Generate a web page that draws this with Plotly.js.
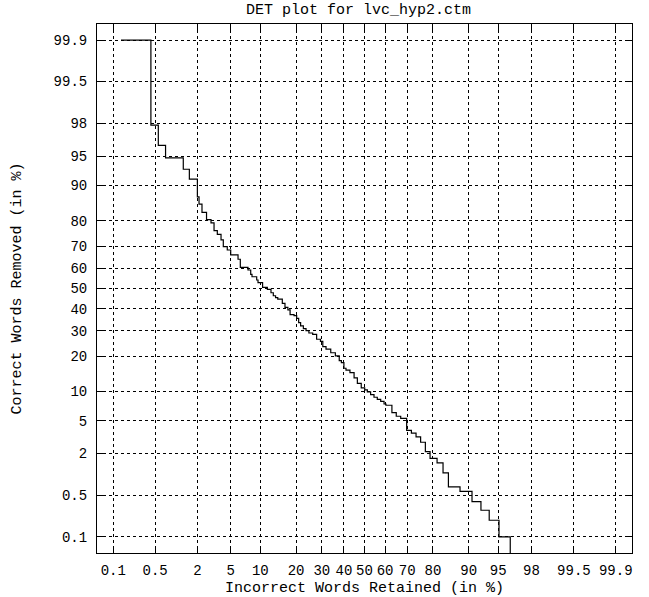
<!DOCTYPE html>
<html>
<head>
<meta charset="utf-8">
<script src="https://cdn.plot.ly/plotly-3.0.1.min.js"></script>
<style>
  html, body { margin: 0; padding: 0; background: #ffffff; }
  #chart { width: 649px; height: 597px; }
</style>
</head>
<body>
<div id="chart"></div>
<script>
// ---- Data (percentages) ----
const chartTitle = 'DET plot for lvc_hyp2.ctm';
const xAxisTitle = 'Incorrect Words Retained (in %)';
const yAxisTitle = 'Correct Words Removed (in %)';

const tickValues = [0.1, 0.5, 2, 5, 10, 20, 30, 40, 50, 60, 70, 80, 90, 95, 98, 99.5, 99.9];
const tickLabels = ['0.1', '0.5', '2', '5', '10', '20', '30', '40', '50', '60', '70', '80', '90', '95', '98', '99.5', '99.9'];
const axisLimits = [0.05, 99.95];

// Incorrect Words Retained (%), one value per DET operating point
const incorrectRetained = [0.137, 0.43, 0.56, 0.72, 1.29, 1.56, 1.99, 2.09, 2.28, 2.60, 2.95, 3.21, 3.51, 3.88, 4.12, 4.57, 4.99, 5.99, 6.33, 7.59, 8.08, 8.32, 9.24, 9.51, 10.5, 11.6, 12.5, 13.1, 13.7, 14.3, 15.6, 16.4, 17.3, 18.0, 19.3, 20.2, 20.9, 21.6, 22.6, 23.6, 24.7, 26.2, 27.8, 29.4, 30.4, 31.8, 33.9, 36.0, 37.8, 38.8, 40.0, 41.0, 42.9, 44.9, 46.5, 48.4, 50.1, 51.4, 53.0, 54.65, 56.25, 57.9, 59.5, 60.4, 63.2, 65.2, 67.2, 69.8, 71.8, 73.7, 75.5, 77.3, 79.0, 81.4, 83.3, 84.9, 88.0, 90.7, 92.4, 93.75, 95.1, 96.35];
// Correct Words Removed (%)
const correctRemoved = [99.9, 97.9, 96.25, 94.8, 93.1, 91.3, 87.3, 85.3, 82.8, 80.4, 79.3, 76.4, 75.0, 72.7, 69.9, 68.4, 66.2, 64.2, 60.4, 59.1, 57.0, 55.8, 54.2, 52.9, 50.6, 49.6, 47.9, 46.4, 45.5, 44.7, 42.7, 40.7, 39.5, 37.3, 36.8, 35.5, 33.6, 32.1, 30.9, 30.0, 29.0, 28.4, 26.4, 25.5, 23.5, 22.5, 21.2, 20.1, 18.5, 17.8, 16.05, 15.5, 14.75, 13.3, 11.9, 10.8, 10.35, 9.9, 9.33, 8.8, 8.4, 8.03, 7.54, 7.32, 6.12, 5.6, 5.3, 3.87, 3.59, 3.24, 2.79, 2.12, 1.73, 1.50, 1.09, 0.68, 0.58, 0.40, 0.29, 0.197, 0.1, 0];

// ---- Normal deviate (probit) scale ----
function probit(p) {
  const a = [-3.969683028665376e+01, 2.209460984245205e+02, -2.759285104469687e+02, 1.383577518672690e+02, -3.066479806614716e+01, 2.506628277459239e+00];
  const b = [-5.447609879822406e+01, 1.615858368580409e+02, -1.556989798598866e+02, 6.680131188771972e+01, -1.328068155288572e+01];
  const c = [-7.784894002430293e-03, -3.223964580411365e-01, -2.400758277161838e+00, -2.549732539343734e+00, 4.374664141464968e+00, 2.938163982698783e+00];
  const d = [7.784695709041462e-03, 3.224671290700398e-01, 2.445134137171078e+00, 3.754408661907416e+00];
  const plow = 0.02425, phigh = 1 - plow;
  let q, r;
  if (p < plow) {
    q = Math.sqrt(-2 * Math.log(p));
    return (((((c[0]*q + c[1])*q + c[2])*q + c[3])*q + c[4])*q + c[5]) /
           ((((d[0]*q + d[1])*q + d[2])*q + d[3])*q + 1);
  } else if (p <= phigh) {
    q = p - 0.5; r = q * q;
    return (((((a[0]*r + a[1])*r + a[2])*r + a[3])*r + a[4])*r + a[5]) * q /
           (((((b[0]*r + b[1])*r + b[2])*r + b[3])*r + b[4])*r + 1);
  } else {
    q = Math.sqrt(-2 * Math.log(1 - p));
    return -(((((c[0]*q + c[1])*q + c[2])*q + c[3])*q + c[4])*q + c[5]) /
            ((((d[0]*q + d[1])*q + d[2])*q + d[3])*q + 1);
  }
}
function pct2dev(v) {
  const p = Math.min(Math.max(v, axisLimits[0]), axisLimits[1]) / 100;
  return probit(p);
}

const FONT = 'Liberation Mono, DejaVu Sans Mono, monospace';
const range = [pct2dev(axisLimits[0]), pct2dev(axisLimits[1])];
const tickDev = tickValues.map(pct2dev);

const trace = {
  type: 'scatter',
  mode: 'lines',
  x: incorrectRetained.map(pct2dev),
  y: correctRemoved.map(pct2dev),
  line: { color: '#000000', width: 1.2, shape: 'hv' },
  cliponaxis: true,
  hoverinfo: 'skip',
  showlegend: false
};

function axis(titleText, standoff) {
  return {
    range: range,
    tickmode: 'array',
    tickvals: tickDev,
    ticktext: tickLabels,
    ticks: 'inside',
    ticklen: 6,
    tickwidth: 1,
    tickcolor: '#000000',
    showgrid: true,
    gridcolor: '#000000',
    gridwidth: 1,
    griddash: '3px,3px',
    zeroline: false,
    showline: true,
    linecolor: '#000000',
    linewidth: 1,
    mirror: 'ticks',
    tickfont: { family: FONT, size: 14, color: '#000000' },
    title: { text: titleText, font: { family: FONT, size: 15, color: '#000000' }, standoff: standoff },
    fixedrange: true
  };
}

const layout = {
  width: 649,
  height: 597,
  margin: { l: 97, r: 17, t: 24, b: 44, pad: 0 },
  paper_bgcolor: '#ffffff',
  plot_bgcolor: '#ffffff',
  title: {
    text: chartTitle,
    font: { family: FONT, size: 15, color: '#000000' },
    x: 0.489, xref: 'paper', xanchor: 'center',
    y: 0.985, yref: 'container', yanchor: 'middle'
  },
  xaxis: Object.assign(axis(xAxisTitle, 8), { ticklabelstandoff: 4 }),
  yaxis: Object.assign(axis(yAxisTitle, 28), { ticklabelstandoff: 6 }),
  showlegend: false
};

Plotly.newPlot('chart', [trace], layout, { staticPlot: true, displayModeBar: false });
</script>
</body>
</html>
